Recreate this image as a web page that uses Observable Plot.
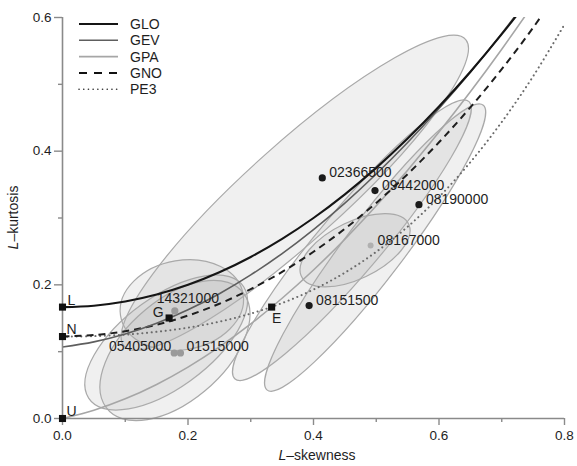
<!DOCTYPE html>
<html>
<head>
<meta charset="utf-8">
<script src="https://cdn.jsdelivr.net/npm/d3@7"></script>
<script src="https://cdn.jsdelivr.net/npm/@observablehq/plot@0.6"></script>
<style>
  html, body { margin: 0; padding: 0; background: #fff; }
  #chart svg { display: block; }
</style>
</head>
<body>
<div id="chart"></div>
<script>
// ---------- data ----------
const distNames = ["GLO", "GEV", "GPA", "GNO", "PE3"];
const t3Grid = [0, 0.05, 0.1, 0.15, 0.2, 0.25, 0.3, 0.35, 0.4, 0.45, 0.5, 0.55, 0.6, 0.65, 0.7, 0.75, 0.8];
const gloT4 = [0.1667, 0.1688, 0.1750, 0.1854, 0.2000, 0.2188, 0.2417, 0.2688, 0.3000, 0.3354, 0.3750, 0.4188, 0.4667, 0.5188, 0.5750, 0.6354, 0.7000];
const gevT4 = [0.1070, 0.1147, 0.1265, 0.1425, 0.1626, 0.1867, 0.2148, 0.2468, 0.2827, 0.3224, 0.3659, 0.4130, 0.4638, 0.5182, 0.5762, 0.6378, 0.7030];
const gpaT4 = [0.0000, 0.0124, 0.0294, 0.0510, 0.0769, 0.1071, 0.1415, 0.1799, 0.2222, 0.2683, 0.3182, 0.3716, 0.4286, 0.4889, 0.5526, 0.6196, 0.6897];
const gnoT4 = [0.1228, 0.1248, 0.1306, 0.1403, 0.1540, 0.1717, 0.1935, 0.2194, 0.2495, 0.2839, 0.3226, 0.3657, 0.4133, 0.4656, 0.5227, 0.5848, 0.6526];
const pe3T4 = [0.1224, 0.1232, 0.1255, 0.1297, 0.1359, 0.1448, 0.1569, 0.1727, 0.1929, 0.2182, 0.2494, 0.2869, 0.3314, 0.3835, 0.4436, 0.5120, 0.5896];

// special points (L, N, U, G, E)
const specialNames = ["L", "N", "U", "G", "E"];
const specialT3 = [0, 0, 0, 0.1699, 0.3333];
const specialT4 = [0.1667, 0.1226, 0, 0.1504, 0.1667];

// sites
const siteNames = ["02366500", "09442000", "08190000", "08167000", "08151500", "14321000", "05405000", "01515000"];
const siteT3 = [0.414, 0.498, 0.568, 0.491, 0.393, 0.179, 0.178, 0.188];
const siteT4 = [0.360, 0.341, 0.320, 0.259, 0.169, 0.161, 0.098, 0.098];

// confidence ellipses (data units): centre, semi-axes, rotation (deg)
const ellCx = [0.371, 0.191, 0.166, 0.180, 0.462, 0.499, 0.467];
const ellCy = [0.337, 0.169, 0.113, 0.101, 0.266, 0.255, 0.251];
const ellRx = [0.356, 0.099, 0.149, 0.139, 0.279, 0.274, 0.094];
const ellRy = [0.074, 0.067, 0.069, 0.077, 0.049, 0.046, 0.043];
const ellRot = [40, 9, 34, 38, 48, 51, 24];

const xTicks = [0, 0.2, 0.4, 0.6, 0.8];
const xMinor = [0.1, 0.3, 0.5, 0.7];
const yTicks = [0, 0.2, 0.4, 0.6];
const yMinor = [0.1, 0.3, 0.5];

// ---------- tables ----------
const curveSeries = [gloT4, gevT4, gpaT4, gnoT4, pe3T4];
const curveRows = distNames.flatMap((name, k) => t3Grid.map((t, i) => ({dist: name, t3: t, t4: curveSeries[k][i]})));
const specialRows = specialNames.map((n, i) => ({name: n, t3: specialT3[i], t4: specialT4[i]}));
const siteRows = siteNames.map((n, i) => ({name: n, t3: siteT3[i], t4: siteT4[i]}));

const FONT = "'Liberation Sans', Arial, Helvetica, sans-serif";
const curveStyle = {
  GLO: {stroke: "#151515", strokeWidth: 2.1, dash: null},
  GEV: {stroke: "#5e5e5e", strokeWidth: 1.6, dash: null},
  GPA: {stroke: "#a6a6a6", strokeWidth: 1.6, dash: null},
  GNO: {stroke: "#1e1e1e", strokeWidth: 2.0, dash: "7,5"},
  PE3: {stroke: "#6a6a6a", strokeWidth: 2.0, dash: "0.1,4.6"}
};

function curveMark(name) {
  const s = curveStyle[name];
  return Plot.line(curveRows.filter(d => d.dist === name), {
    x: "t3", y: "t4", curve: "catmull-rom", clip: true,
    stroke: s.stroke, strokeWidth: s.strokeWidth,
    strokeDasharray: s.dash, strokeLinecap: name === "PE3" ? "round" : "butt"
  });
}

function ellipses(index, scales) {
  const g = d3.create("svg:g");
  const x0 = scales.x(0), y0 = scales.y(0);
  const kx = scales.x(1) - x0, ky = scales.y(1) - y0;
  ellCx.forEach((cx, i) => {
    g.append("ellipse")
      .attr("transform", `matrix(${kx},0,0,${ky},${x0},${y0}) translate(${cx},${ellCy[i]}) rotate(${ellRot[i]})`)
      .attr("rx", ellRx[i]).attr("ry", ellRy[i])
      .attr("fill", "#b4b4b4").attr("fill-opacity", 0.2)
      .attr("stroke", "#a9a9a9").attr("stroke-width", 1.2)
      .attr("vector-effect", "non-scaling-stroke");
  });
  return g.node();
}

function legend(index, scales, values, dim) {
  const g = d3.create("svg:g").attr("font-family", FONT).attr("font-size", 14).attr("fill", "#1e1e1e").attr("text-anchor", "start");
  const left = dim.marginLeft + 17, top = dim.marginTop + 7, step = 16.3;
  distNames.forEach((name, i) => {
    const s = curveStyle[name];
    const y = top + i * step;
    g.append("line").attr("x1", left).attr("x2", left + 39).attr("y1", y).attr("y2", y)
      .attr("stroke", name === "GNO" ? "#111" : (name === "PE3" ? "#333" : s.stroke))
      .attr("stroke-width", name === "PE3" ? 1.6 : s.strokeWidth)
      .attr("stroke-dasharray", name === "GNO" ? "8,7" : (name === "PE3" ? "0.1,4.6" : null))
      .attr("stroke-linecap", name === "PE3" ? "round" : "butt");
    g.append("text").attr("x", left + 51).attr("y", y).attr("dy", "0.36em").attr("text-anchor", "start").text(name);
  });
  return g.node();
}

function axisTitles(index, scales, values, dim) {
  const g = d3.create("svg:g").attr("font-family", FONT).attr("font-size", 14).attr("fill", "#1e1e1e");
  const cx = (dim.marginLeft + dim.width - dim.marginRight) / 2 + 4;
  const t1 = g.append("text").attr("x", cx).attr("y", dim.height - 6).attr("text-anchor", "middle");
  t1.append("tspan").attr("font-style", "italic").text("L");
  t1.append("tspan").text("–skewness");
  const cy = (dim.marginTop + dim.height - dim.marginBottom) / 2;
  const t2 = g.append("text").attr("transform", `translate(18,${cy}) rotate(-90)`).attr("text-anchor", "middle");
  t2.append("tspan").attr("font-style", "italic").text("L");
  t2.append("tspan").text("–kurtosis");
  return g.node();
}

const AX = "#8a8a8a", TXT = "#1e1e1e";
const siteText = {fontSize: 14, fill: TXT};

const chart = Plot.plot({
  width: 577,
  height: 466,
  marginLeft: 62,
  marginRight: 13,
  marginTop: 17,
  marginBottom: 48,
  style: {fontFamily: FONT, fontSize: "13.5px", color: TXT, background: "#fff"},
  x: {domain: [0, 0.8]},
  y: {domain: [0, 0.6]},
  marks: [
    ellipses,
    curveMark("PE3"),
    curveMark("GPA"),
    curveMark("GNO"),
    curveMark("GEV"),
    curveMark("GLO"),
    Plot.ruleX([0], {stroke: AX, strokeWidth: 1.6}),
    Plot.ruleY([0], {stroke: AX, strokeWidth: 1.6}),
    Plot.axisX({ticks: xTicks, tickSize: 7, tickPadding: 5, tickFormat: d3.format(".1f"), stroke: AX, strokeWidth: 1.4, fill: TXT, fontSize: 13.5, label: null}),
    Plot.axisX({ticks: xMinor, tickSize: 4, tickFormat: () => "", stroke: AX, strokeWidth: 1.4, label: null}),
    Plot.axisY({ticks: yTicks, tickSize: 8, tickPadding: 3, tickFormat: d3.format(".1f"), stroke: AX, strokeWidth: 1.4, fill: TXT, fontSize: 13.5, label: null}),
    Plot.axisY({ticks: yMinor, tickSize: 4, tickFormat: () => "", stroke: AX, strokeWidth: 1.4, label: null}),
    // special points
    Plot.dot(specialRows, {x: "t3", y: "t4", symbol: "square", r: 4, fill: "#111", stroke: null}),
    Plot.text(specialRows.filter(d => ["L", "N", "U"].includes(d.name)), {x: "t3", y: "t4", text: "name", dx: 9, dy: -7, textAnchor: "middle", fontSize: 14, fill: TXT}),
    Plot.text(specialRows.filter(d => d.name === "G"), {x: "t3", y: "t4", text: "name", dx: -11, dy: -5, textAnchor: "middle", fontSize: 14, fill: TXT}),
    Plot.text(specialRows.filter(d => d.name === "E"), {x: "t3", y: "t4", text: "name", dx: 5, dy: 11, textAnchor: "middle", fontSize: 14, fill: TXT}),
    // sites
    Plot.dot(siteRows.filter(d => ["02366500", "09442000", "08190000", "08151500"].includes(d.name)), {x: "t3", y: "t4", r: 3.6, fill: "#1a1a1a"}),
    Plot.dot(siteRows.filter(d => ["14321000", "05405000", "01515000"].includes(d.name)), {x: "t3", y: "t4", r: 3.6, fill: "#9a9a9a"}),
    Plot.dot(siteRows.filter(d => d.name === "08167000"), {x: "t3", y: "t4", r: 3, fill: "#b0b0b0"}),
    Plot.text(siteRows.filter(d => ["02366500", "09442000", "08190000", "08167000", "08151500"].includes(d.name)), {x: "t3", y: "t4", text: "name", dx: 7, dy: -5, textAnchor: "start", ...siteText}),
    Plot.text(siteRows.filter(d => d.name === "14321000"), {x: "t3", y: "t4", text: "name", dx: 13, dy: -12, textAnchor: "middle", ...siteText}),
    Plot.text(siteRows.filter(d => d.name === "05405000"), {x: "t3", y: "t4", text: "name", dx: -3, dy: -6, textAnchor: "end", ...siteText}),
    Plot.text(siteRows.filter(d => d.name === "01515000"), {x: "t3", y: "t4", text: "name", dx: 6, dy: -6, textAnchor: "start", ...siteText}),
    legend,
    axisTitles
  ]
});
document.getElementById("chart").appendChild(chart);
</script>
</body>
</html>
